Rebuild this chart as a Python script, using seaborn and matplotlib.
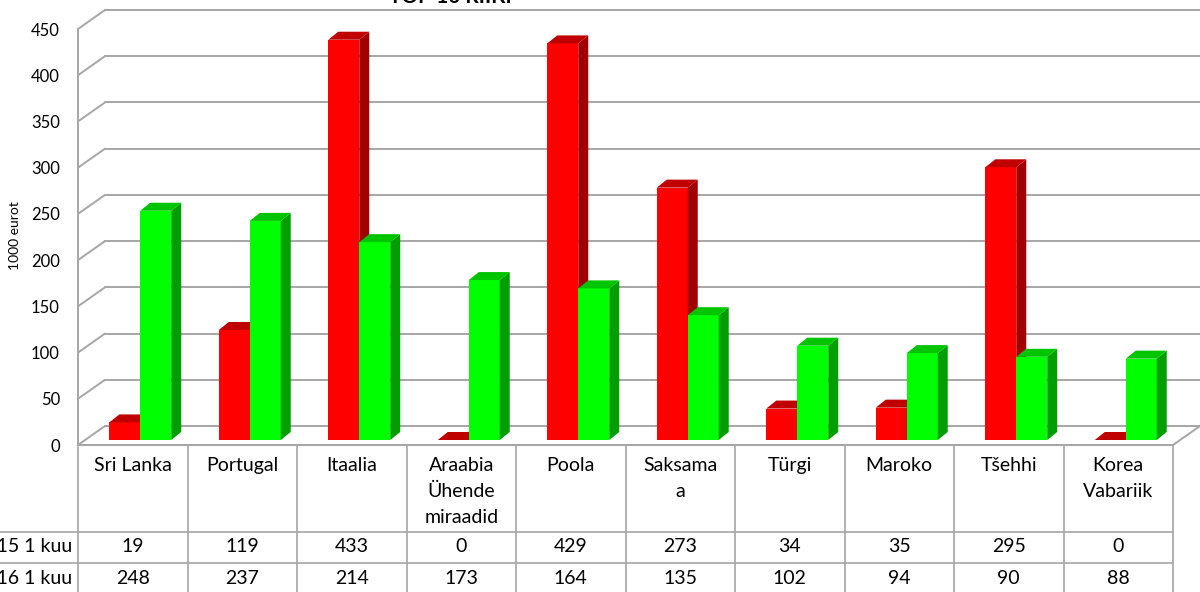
import pandas as pd
import matplotlib
matplotlib.use("Agg")
import matplotlib.pyplot as plt
import matplotlib.transforms as mtransforms
from matplotlib.patches import Polygon
import seaborn as sns

# data (1000 eurot)
countries = ["Sri Lanka", "Portugal", "Itaalia", "Araabia\nÜhende\nmiraadid", "Poola",
             "Saksama\na", "Türgi", "Maroko", "Tšehhi", "Korea\nVabariik"]
series = ["2015 1 kuu", "2016 1 kuu"]
values_2015 = [19, 119, 433, 0, 429, 273, 34, 35, 295, 0]
values_2016 = [248, 237, 214, 173, 164, 135, 102, 94, 90, 88]
yticks = list(range(0, 451, 50))

df = pd.DataFrame({
    "riik": countries * 2,
    "periood": [series[0]] * len(countries) + [series[1]] * len(countries),
    "vaartus": values_2015 + values_2016,
})

sns.set_theme(style="white")
plt.rcParams["font.family"] = ["Lato", "DejaVu Sans"]

W, H = 1200, 592
fig = plt.figure(figsize=(12, 5.92), dpi=100)

# plot area = front plane of the 3d box (pixels: x 78..1173, y 445..29)
x_left, x_right, y_floor, y_top = 78, 1173, 445, 29
ax = fig.add_axes([x_left / W, 1 - y_floor / H, (x_right - x_left) / W, (y_floor - y_top) / H])

colors = {series[0]: "#ff0000", series[1]: "#00ff00"}
tops = {series[0]: "#c00000", series[1]: "#00c400"}
sides = {series[0]: "#a00000", series[1]: "#009e00"}

sns.barplot(data=df, x="riik", y="vaartus", hue="periood", palette=colors,
            width=0.566, gap=0, saturation=1, legend=False, ax=ax,
            edgecolor="none", linewidth=0, errorbar=None)

ax.set_xlim(-0.5, 9.5)
ax.set_ylim(0, 450)
px_x = (x_right - x_left) / 10.0
px_y = (y_floor - y_top) / 450.0

# bars sit a bit behind the front plane
bar_trans = ax.transData + mtransforms.ScaledTranslation(7.5 / 100, 5 / 100, fig.dpi_scale_trans)
bdx, bdy = 10 / px_x, 8 / px_y
bars = list(ax.patches)
for i, p in enumerate(bars):
    s = series[0] if i < len(countries) else series[1]
    z = 3 if s == series[0] else 4
    p.set_transform(bar_trans)
    p.set_zorder(z)
    p.set_clip_on(False)
    x0, w, h = p.get_x(), p.get_width(), p.get_height()
    side = Polygon([(x0 + w, 0), (x0 + w + bdx, bdy), (x0 + w + bdx, h + bdy), (x0 + w, h)],
                   closed=True, facecolor=sides[s], edgecolor="none", transform=bar_trans,
                   zorder=z, clip_on=False)
    top = Polygon([(x0, h), (x0 + w, h), (x0 + w + bdx, h + bdy), (x0 + bdx, h + bdy)],
                  closed=True, facecolor=tops[s], edgecolor="none", transform=bar_trans,
                  zorder=z, clip_on=False)
    ax.add_patch(side)
    ax.add_patch(top)

# walls and floor
wdx, wdy = 27 / px_x, 19 / px_y
grid_kw = dict(color="#a6a6a6", lw=1.4, clip_on=False, zorder=1)
for v in yticks:
    ax.plot([-0.5, -0.5 + wdx], [v, v + wdy], **grid_kw)
    ax.plot([-0.5 + wdx, 9.5 + wdx], [v + wdy, v + wdy], **grid_kw)
ax.plot([-0.5, -0.5], [0, 450], **grid_kw)
ax.plot([-0.5, 9.5], [0, 0], **grid_kw)
ax.plot([9.5, 9.5 + wdx], [0, wdy], **grid_kw)

sns.despine(ax=ax, left=True, bottom=True)
ax.set_xticks([])
ax.set_yticks(yticks)
ax.set_yticklabels([str(v) for v in yticks], fontsize=12, color="black")
ax.tick_params(axis="y", length=0, pad=13)
ax.set_xlabel("")
ax.set_ylabel("")
ax.patch.set_alpha(0)

fig.text(15 / W, 1 - 236 / H, "1000 eurot", rotation=90, ha="center", va="center",
         fontsize=10, color="black")
fig.text(450 / W, 1 - 3 / H, "TOP 10 RIIKI", ha="center", va="baseline",
         fontsize=15, fontweight="bold", color="black")

# data table under the chart, drawn in pixel coordinates
tab = fig.add_axes([0, 0, 1, 1])
tab.set_xlim(0, W)
tab.set_ylim(H, 0)
tab.axis("off")
line_kw = dict(color="#a6a6a6", lw=1.2)
for k in range(len(countries) + 1):
    xk = x_left + px_x * k
    tab.plot([xk, xk], [y_floor, H + 5], **line_kw)
for yk, xs in [(y_floor, x_left), (532, 0), (563, 0)]:
    tab.plot([xs, x_right], [yk, yk], **line_kw)

for i, name in enumerate(countries):
    cx = x_left + px_x * (i + 0.5)
    tab.text(cx, 457, name, ha="center", va="top", fontsize=14, linespacing=1.62, color="black")
    tab.text(cx, 547, str(values_2015[i]), ha="center", va="center", fontsize=14, color="black")
    tab.text(cx, 578, str(values_2016[i]), ha="center", va="center", fontsize=14, color="black")
tab.text(72, 547, series[0], ha="right", va="center", fontsize=14, color="black")
tab.text(72, 578, series[1], ha="right", va="center", fontsize=14, color="black")

fig.savefig("out.png", dpi=100)
